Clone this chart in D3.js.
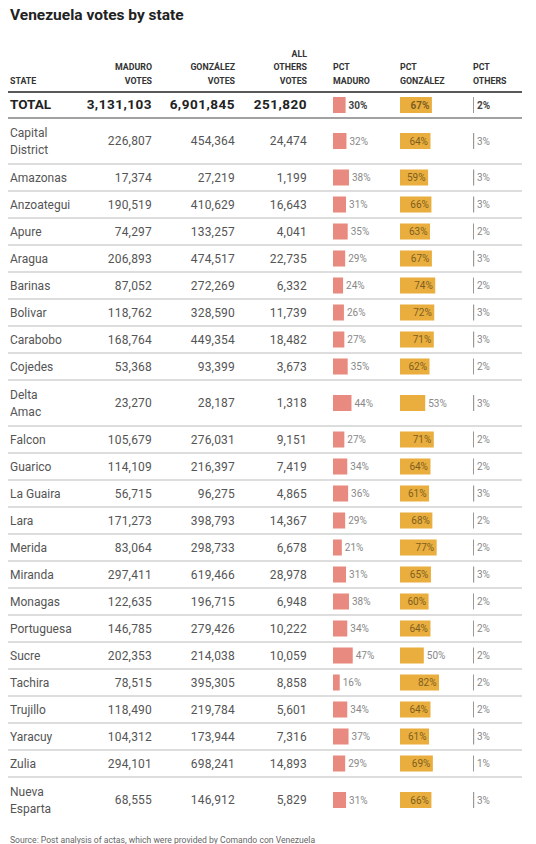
<!DOCTYPE html>
<html>
<head>
<meta charset="utf-8">
<script src="https://cdn.jsdelivr.net/npm/d3@7/dist/d3.min.js"></script>
<style>
  html, body { margin: 0; padding: 0; background: #fff; }
  svg { display: block; font-family: Roboto, "Noto Sans", sans-serif; }
</style>
</head>
<body>
<svg id="chart" width="536" height="844"></svg>
<script>
// ---------- DATA ----------
const states = ["Capital District","Amazonas","Anzoategui","Apure","Aragua","Barinas","Bolivar","Carabobo","Cojedes","Delta Amac","Falcon","Guarico","La Guaira","Lara","Merida","Miranda","Monagas","Portuguesa","Sucre","Tachira","Trujillo","Yaracuy","Zulia","Nueva Esparta"];
const maduroVotes = [226807,17374,190519,74297,206893,87052,118762,168764,53368,23270,105679,114109,56715,171273,83064,297411,122635,146785,202353,78515,118490,104312,294101,68555];
const gonzalezVotes = [454364,27219,410629,133257,474517,272269,328590,449354,93399,28187,276031,216397,96275,398793,298733,619466,196715,279426,214038,395305,219784,173944,698241,146912];
const othersVotes = [24474,1199,16643,4041,22735,6332,11739,18482,3673,1318,9151,7419,4865,14367,6678,28978,6948,10222,10059,8858,5601,7316,14893,5829];
const pctMaduro = [32,38,31,35,29,24,26,27,35,44,27,34,36,29,21,31,38,34,47,16,34,37,29,31];
const pctGonzalez = [64,59,66,63,67,74,72,71,62,53,71,64,61,68,77,65,60,64,50,82,64,61,69,66];
const pctOthers = [3,3,3,2,3,2,3,3,2,3,2,2,3,2,2,3,2,2,2,2,2,3,1,3];
const totalLabel = "TOTAL";
const totalVotes = [3131103, 6901845, 251820];
const totalPct = [30, 67, 2];
const headers = [
  ["STATE"], ["MADURO","VOTES"], ["GONZÁLEZ","VOTES"], ["ALL","OTHERS","VOTES"],
  ["PCT","MADURO"], ["PCT","GONZÁLEZ"], ["PCT","OTHERS"]
];
const title = "Venezuela votes by state";
const source = "Source: Post analysis of actas, which were provided by Comando con Venezuela";

// ---------- LAYOUT ----------
const svg = d3.select("#chart");
const colors = { maduro: "#e88a7f", gonzalez: "#e9ae3d", others: "#999" };
const left = 8, right = 522;
const colX = { state: 10, mv: 152, gv: 235, ov: 307, pm: 333, pg: 400, po: 473 };
const fmt = d3.format(",");

const xM = d3.scaleLinear().domain([0, 100]).range([0, 42]);
const xG = d3.scaleLinear().domain([0, 100]).range([0, 47.6]);
const xO = d3.scaleLinear().domain([0, 100]).range([0, 40]);

// title
svg.append("text").attr("x", 10).attr("y", 20)
  .attr("font-size", 15.5).attr("font-weight", 700).attr("fill", "#222")
  .text(title);

// headers
const headerX = [colX.state, colX.mv, colX.gv, colX.ov, colX.pm, colX.pg, colX.po];
const headerAnchor = ["start","end","end","end","start","start","start"];
headers.forEach((lines, i) => {
  const n = lines.length;
  lines.forEach((l, j) => {
    svg.append("text")
      .attr("x", headerX[i]).attr("y", 83.5 - (n - 1 - j) * 13.5)
      .attr("text-anchor", headerAnchor[i])
      .attr("font-size", 8.8).attr("font-weight", 700).attr("fill", "#333")
      .text(l);
  });
});

// header line
svg.append("line").attr("x1", left).attr("x2", right).attr("y1", 92).attr("y2", 92)
  .attr("stroke", "#222").attr("stroke-width", 1.5);

// rows
const wrapName = s => (s.includes(" ") && s.length >= 10) ? s.split(" ") : [s];
const rows = states.map((s, i) => ({
  name: s, lines: wrapName(s),
  mv: maduroVotes[i], gv: gonzalezVotes[i], ov: othersVotes[i],
  pm: pctMaduro[i], pg: pctGonzalez[i], po: pctOthers[i], total: false
}));
const totalRow = { name: totalLabel, lines: [totalLabel], mv: totalVotes[0], gv: totalVotes[1], ov: totalVotes[2],
  pm: totalPct[0], pg: totalPct[1], po: totalPct[2], total: true };

let y = 92;
const allRows = [totalRow].concat(rows);
allRows.forEach(r => {
  const h = r.total ? 26 : (r.lines.length > 1 ? 46 : 27);
  r.y0 = y; r.h = h; r.cy = y + h / 2; y += h;
});

const g = svg.append("g");
allRows.forEach((r, i) => {
  const row = g.append("g");
  const cy = r.cy;
  const txtColor = r.total ? "#222" : "#555";
  const fs = r.total ? 13.5 : 12;
  const fw = r.total ? 700 : 400;
  // name
  const nameT = row.append("text").attr("x", colX.state)
    .attr("font-size", fs).attr("font-weight", fw).attr("fill", txtColor);
  if (r.lines.length > 1) {
    r.lines.forEach((l, j) => {
      nameT.append("tspan").attr("x", colX.state)
        .attr("y", cy + 4.3 + (j - 0.5) * 16.8).text(l);
    });
  } else {
    nameT.attr("y", cy + 4.3).text(r.lines[0]);
  }
  // numbers
  [["mv", colX.mv], ["gv", colX.gv], ["ov", colX.ov]].forEach(([k, x]) => {
    row.append("text").attr("x", x).attr("y", cy + 4.3)
      .attr("text-anchor", "end").attr("font-size", fs).attr("font-weight", fw)
      .attr("letter-spacing", r.total ? 0.5 : 0.2)
      .attr("fill", txtColor).text(fmt(r[k]));
  });
  const bh = 16, by = cy - bh / 2;
  const lfs = 10;
  const lfw = r.total ? 700 : 400;
  // maduro bar
  const wm = xM(r.pm);
  row.append("rect").attr("x", colX.pm).attr("y", by).attr("width", wm).attr("height", bh)
    .attr("fill", colors.maduro);
  row.append("text").attr("x", colX.pm + wm + 3).attr("y", cy + 3.6)
    .attr("font-size", lfs).attr("font-weight", lfw).attr("fill", r.total ? "#444" : "#888")
    .text(r.pm + "%");
  // gonzalez bar
  const wg = xG(r.pg);
  row.append("rect").attr("x", colX.pg).attr("y", by).attr("width", wg).attr("height", bh)
    .attr("fill", colors.gonzalez);
  const inside = r.pg >= 55;
  row.append("text")
    .attr("x", inside ? colX.pg + wg - 2.5 : colX.pg + wg + 3)
    .attr("y", cy + 3.6)
    .attr("text-anchor", inside ? "end" : "start")
    .attr("font-size", lfs).attr("font-weight", lfw)
    .attr("fill", inside ? "#7d5e22" : "#888")
    .text(r.pg + "%");
  // others bar
  const wo = Math.max(1, xO(r.po));
  row.append("rect").attr("x", colX.po).attr("y", by).attr("width", wo).attr("height", bh)
    .attr("fill", colors.others);
  row.append("text").attr("x", colX.po + 4).attr("y", cy + 3.6)
    .attr("font-size", lfs).attr("font-weight", lfw).attr("fill", r.total ? "#444" : "#888")
    .text(r.po + "%");
  // bottom separator
  if (i < allRows.length - 1) {
    g.append("line").attr("x1", left).attr("x2", right)
      .attr("y1", r.y0 + r.h).attr("y2", r.y0 + r.h)
      .attr("stroke", r.total ? "#444" : "#bbb").attr("stroke-width", r.total ? 1.2 : 1);
  }
});

// source
svg.append("text").attr("x", 10).attr("y", 843)
  .attr("font-size", 8.6).attr("fill", "#666").text(source);
</script>
</body>
</html>
